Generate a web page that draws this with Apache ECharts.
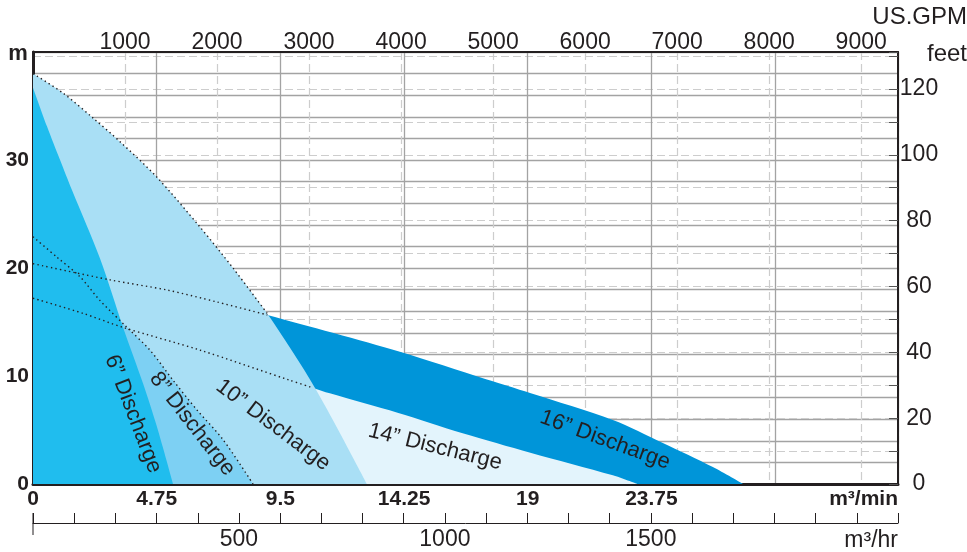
<!DOCTYPE html>
<html><head><meta charset="utf-8">
<script src="https://cdn.jsdelivr.net/npm/echarts/dist/echarts.min.js"></script>
<style>html,body{margin:0;padding:0;background:#fff}#c{width:967px;height:552px}</style>
</head><body><div id="c"></div>
<script>
// ---- data (flow in m³/min, head in m) ----
const q16 = [0, 2.96, 5.15, 7.07, 9.0, 14.09, 17.4, 19.09, 22.27, 24.19, 26.11, 27.27];
const h16 = [20.4, 18.9, 17.96, 16.85, 15.65, 12.25, 9.7, 8.43, 5.93, 3.8, 1.57, 0];
const q14 = [0, 1.92, 3.46, 6.41, 9.87, 10.75, 11.4, 14.0, 16.5, 19.1, 22.27, 23.2];
const h14 = [17.2, 15.8, 14.5, 12.4, 9.6, 8.9, 8.4, 6.6, 4.7, 2.9, 0.8, 0];
const q10 = [0, 1.15, 2.3, 3.34, 4.76, 6.41, 7.68, 8.99, 10.83, 12.83];
const h10 = [38.0, 36.2, 33.9, 31.7, 28.4, 23.8, 20.0, 15.8, 8.9, 0];
const q8 = [0, 0.92, 1.8, 2.57, 3.61, 4.49, 5.38, 6.3, 7.3, 8.45];
const h8 = [22.9, 21.0, 19.2, 17.0, 14.5, 12.4, 9.6, 6.85, 4.1, 0];
const q6 = [0, 0.54, 1.04, 1.5, 2.57, 3.46, 4.22, 4.76, 5.38];
const h6 = [36.7, 33.1, 30.0, 27.2, 20.9, 14.5, 9.35, 5.3, 0];
// how many leading points of each curve are drawn dotted (hidden part)
const dotted10Count = 8, dotted16Count = 5, dotted14Count = 6;

// ---- axes / tick labels ----
const m3minMax = 33.22, m3minStep = 4.75;
const m3minLabels = [0, 4.75, 9.5, 14.25, 19, 23.75];
const gpmMax = 9400, gpmStep = 1000;
const gpmLabels = [1000, 2000, 3000, 4000, 5000, 6000, 7000, 8000, 9000];
const m3hrMax = 2100, m3hrStep = 100;
const m3hrLabels = [500, 1000, 1500];
const mMax = 40, mStep = 2;
const mLabels = [0, 10, 20, 30];
const ftMax = 131.23, ftStep = 10;
const ftLabels = [0, 20, 40, 60, 80, 100, 120];

const seriesNames = ['16” Discharge', '14” Discharge', '10” Discharge', '8” Discharge', '6” Discharge'];
// label anchors in data coordinates (m³/min, m) and angle in degrees
const labelAnchors = [[21.97, 4.07, 20], [15.44, 3.43, 14], [9.22, 5.46, 37], [6.11, 5.56, 52], [3.84, 6.48, 69]];

const FONT = '"Liberation Sans", Arial, Helvetica, sans-serif';
const INK = '#231f20';
const zip = (a, b) => a.map((v, i) => [v, b[i]]);
const pick = list => v => list.some(t => Math.abs(t - v) < 1e-6) ? String(v) : '';

const areaColors = ['#0095d9', '#e3f4fc', '#a9dff5', '#7dd0f3', '#20bdee'];
const curves = [zip(q16, h16), zip(q14, h14), zip(q10, h10), zip(q8, h8), zip(q6, h6)];
const SMOOTH = 0.3;

const series = curves.map((d, i) => ({
  name: seriesNames[i], type: 'line', data: d, smooth: SMOOTH,
  symbol: 'none', silent: true, xAxisIndex: 0, yAxisIndex: 0,
  lineStyle: {width: 0}, areaStyle: {color: areaColors[i], opacity: 1}, z: 2 + i
}));
const dotStyle = {color: INK, width: 1.4, type: [1.4, 3.2]};
[zip(q8, h8), zip(q10, h10).slice(0, dotted10Count), zip(q16, h16).slice(0, dotted16Count), zip(q14, h14).slice(0, dotted14Count)]
  .forEach(d => series.push({type: 'line', data: d, smooth: SMOOTH, symbol: 'none', silent: true,
    xAxisIndex: 0, yAxisIndex: 0, lineStyle: dotStyle, z: 10}));

const solidSplit = {show: true, lineStyle: {color: '#a3a3a3', width: 1.3, type: 'solid'}};
const dashSplit = {show: true, lineStyle: {color: '#cdcdcd', width: 1.2, type: [8, 4]}};

const chart = echarts.init(document.getElementById('c'), null, {renderer: 'canvas'});
chart.setOption({
  animation: false,
  backgroundColor: '#fff',
  grid: {left: 33, right: 69, top: 52, bottom: 68, containLabel: false, outerBoundsMode: 'none'},
  xAxis: [
    {type: 'value', position: 'bottom', min: 0, max: m3minMax, interval: m3minStep,
      axisLine: {show: true, onZero: false, lineStyle: {color: INK, width: 3}},
      axisTick: {show: false}, splitLine: solidSplit,
      axisLabel: {formatter: pick(m3minLabels), color: INK, fontFamily: FONT, fontSize: 21, fontWeight: 'bold', margin: 5,
        showMinLabel: true, showMaxLabel: true, hideOverlap: false}},
    {type: 'value', position: 'top', min: 0, max: gpmMax, interval: gpmStep,
      axisLine: {show: true, onZero: false, lineStyle: {color: INK, width: 2}},
      axisTick: {show: false}, splitLine: dashSplit,
      axisLabel: {formatter: pick(gpmLabels), color: INK, fontFamily: FONT, fontSize: 23, margin: -2,
        showMinLabel: true, showMaxLabel: true, hideOverlap: false}},
    {type: 'value', position: 'bottom', offset: 39, min: 0, max: m3hrMax, interval: m3hrStep,
      axisLine: {show: true, onZero: false, lineStyle: {color: INK, width: 1}},
      axisTick: {show: true, inside: true, length: 10, lineStyle: {color: INK, width: 1}},
      splitLine: {show: false},
      axisLabel: {formatter: pick(m3hrLabels), color: INK, fontFamily: FONT, fontSize: 23, margin: 5,
        showMinLabel: true, showMaxLabel: true, hideOverlap: false}}
  ],
  yAxis: [
    {type: 'value', position: 'left', min: 0, max: mMax, interval: mStep,
      axisLine: {show: true, onZero: false, lineStyle: {color: INK, width: 3}},
      axisTick: {show: false}, splitLine: solidSplit,
      axisLabel: {formatter: pick(mLabels), color: INK, fontFamily: FONT, fontSize: 21, fontWeight: 'bold', margin: 4,
        showMinLabel: true, showMaxLabel: true, hideOverlap: false}},
    {type: 'value', position: 'right', min: 0, max: ftMax, interval: ftStep,
      axisLine: {show: true, onZero: false, lineStyle: {color: INK, width: 2}},
      axisTick: {show: true, inside: true, length: 9, lineStyle: {color: '#555', width: 1}},
      splitLine: dashSplit,
      axisLabel: {formatter: pick(ftLabels), color: INK, fontFamily: FONT, fontSize: 23, margin: 21, align: 'center',
        showMinLabel: true, showMaxLabel: true, hideOverlap: false}}
  ],
  series: series
});

// labels placed in data coordinates
const graphics = labelAnchors.map(([q, h, deg], i) => {
  const p = chart.convertToPixel({xAxisIndex: 0, yAxisIndex: 0}, [q, h]);
  return {type: 'text', x: p[0], y: p[1], rotation: -deg * Math.PI / 180, z: 100, silent: true,
    style: {text: seriesNames[i], fill: INK, font: '22px ' + FONT, align: 'center', verticalAlign: 'middle'}};
});
const x0 = chart.convertToPixel({xAxisIndex: 2}, 0);
const xEnd = chart.convertToPixel({xAxisIndex: 0}, m3minMax);
const yTop = chart.convertToPixel({yAxisIndex: 0}, mMax);
const yBot = chart.convertToPixel({yAxisIndex: 0}, 0);
graphics.push(
  {type: 'line', shape: {x1: x0, y1: yBot + 29, x2: x0, y2: yBot + 51}, style: {stroke: INK, lineWidth: 1}, z: 100},
  {type: 'text', x: xEnd, y: yBot + 15, z: 100, style: {text: 'm³/min', fill: INK, font: 'bold 21px ' + FONT, align: 'right', verticalAlign: 'middle'}},
  {type: 'text', x: xEnd, y: yBot + 57, z: 100, style: {text: 'm³/hr', fill: INK, font: '23px ' + FONT, align: 'right', verticalAlign: 'middle'}},
  {type: 'text', x: 967, y: 17, z: 100, style: {text: 'US.GPM', fill: INK, font: '24px ' + FONT, align: 'right', verticalAlign: 'middle'}},
  {type: 'text', x: 967, y: yTop + 2, z: 100, style: {text: 'feet', fill: INK, font: '24px ' + FONT, align: 'right', verticalAlign: 'middle'}},
  {type: 'text', x: 18, y: yTop + 2, z: 100, style: {text: 'm', fill: INK, font: 'bold 22px ' + FONT, align: 'center', verticalAlign: 'middle'}}
);
chart.setOption({graphic: graphics});
</script></body></html>
